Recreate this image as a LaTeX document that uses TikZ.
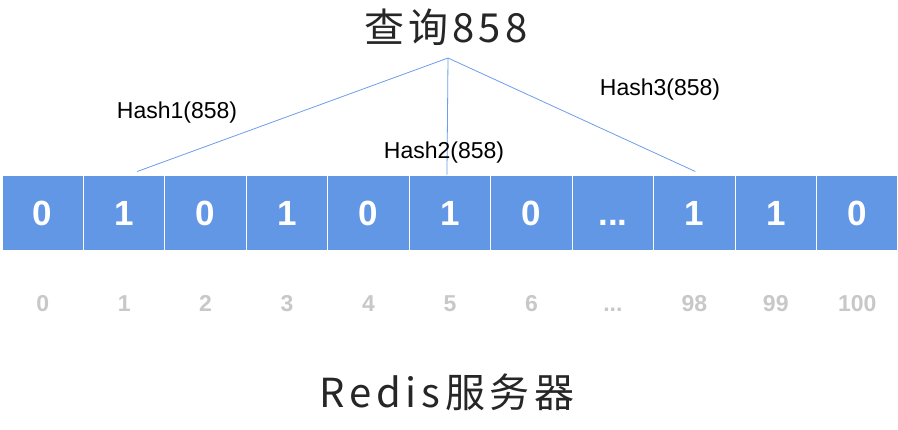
\documentclass[tikz,border=0pt]{standalone}
\usepackage{fontspec}
\setmainfont{Liberation Sans}
\newfontfamily\cjk[LetterSpace=10]{Noto Sans CJK SC}
\newfontfamily\cjkwide[LetterSpace=12]{Noto Sans CJK SC}
\definecolor{cellblue}{HTML}{6197E4}
\definecolor{linkblue}{HTML}{6D9EEB}
\definecolor{idxgray}{HTML}{C8C8C8}
\definecolor{textdark}{HTML}{262626}
\newcommand\myell{...}
\begin{document}
\begin{tikzpicture}[x=1pt,y=-1pt,
  cellbox/.style={draw=white, line width=1pt, fill=cellblue, minimum width=81.45pt, minimum height=75pt, inner sep=0pt, text=white, font=\bfseries\fontsize{35}{35}\selectfont, text height=25pt, text depth=0pt},
  idx/.style={text=idxgray, font=\bfseries\fontsize{23}{23}\selectfont, inner sep=0pt, text height=17pt, text depth=0pt},
  hashlbl/.style={text=black, font=\fontsize{23}{23}\selectfont, inner sep=0pt},
  link/.style={draw=linkblue, line width=0.8pt}]
\useasboundingbox (0,0) rectangle (898,429);
\fill[white] (0,0) rectangle (898,429);
\foreach \v [count=\i from 0] in {0,1,0,1,0,1,0,\myell,1,1,0} {
  \node[cellbox] (c\i) at ({2+81.45*(\i+0.5)},212.5) {\v};
}
\foreach \v [count=\i from 0] in {0,1,2,3,4,5,6,\myell,98,99,100} {
  \node[idx] (n\i) at ({2+81.45*(\i+0.5)},303) {\v};
}
\node[font=\cjk\fontsize{40}{40}\selectfont, text=textdark, inner sep=0pt] (title) at (446,27) {查询858};
\node[font=\cjkwide\fontsize{40}{40}\selectfont, text=textdark, inner sep=0pt] (server) at (447,392) {Redis服务器};
\coordinate (apex) at (448,58);
\coordinate (h1) at ([xshift=13pt,yshift=3pt]c1.north);
\coordinate (h2) at ([xshift=-3pt]c5.north);
\coordinate (h3) at ([xshift=1pt,yshift=3pt]c8.north);
\draw[link] (apex) -- (h1);
\draw[link] (apex) -- (h2);
\draw[link] (apex) -- (h3);
\node[hashlbl] (l1) at (177,113) {Hash1(858)};
\node[hashlbl] (l2) at (444,153) {Hash2(858)};
\node[hashlbl] (l3) at (660,90) {Hash3(858)};
\end{tikzpicture}
\end{document}
